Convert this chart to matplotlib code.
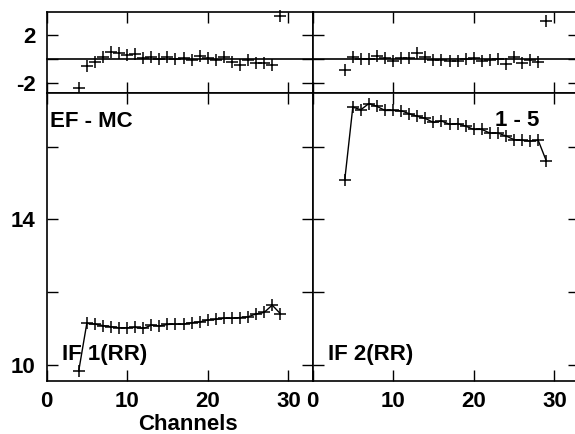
import matplotlib
matplotlib.use("Agg")
import matplotlib.pyplot as plt

plt.rcParams['font.family'] = ['Liberation Sans', 'DejaVu Sans']
plt.rcParams['font.weight'] = 'bold'

channels = list(range(4, 30))

# Residuals (top panels)
resid_if1 = [-2.41, -0.55, -0.22, 0.19, 0.60, 0.46, 0.33, 0.38, 0.05, 0.19, 0.00, 0.14, 0.00,
             0.05, -0.08, 0.25, 0.05, -0.08, 0.19, -0.22, -0.50, -0.08, -0.36, -0.36, -0.50, 3.56]
resid_if2 = [-0.90, 0.19, -0.03, -0.03, 0.27, 0.05, -0.14, 0.05, 0.05, 0.46, 0.14, -0.08, -0.08,
             -0.14, -0.14, -0.03, 0.05, -0.14, -0.08, -0.03, -0.41, 0.14, -0.36, -0.08, -0.22, 3.15]

# Data (bottom panels)
data_if1 = [9.85, 11.15, 11.13, 11.09, 11.06, 11.03, 11.03, 11.04, 11.01, 11.10, 11.08, 11.12, 11.13,
            11.13, 11.17, 11.19, 11.24, 11.26, 11.29, 11.29, 11.31, 11.33, 11.41, 11.45, 11.65, 11.42]
data_if2 = [15.08, 17.08, 17.01, 17.18, 17.10, 16.99, 16.99, 16.98, 16.90, 16.83, 16.77, 16.66, 16.70,
            16.61, 16.63, 16.56, 16.47, 16.47, 16.37, 16.37, 16.29, 16.19, 16.17, 16.15, 16.17, 15.61]

x_ticks = [0, 10, 20, 30]
top_yticks = [-2, 0, 2]
top_ylabels = ['-2', '', '2']
bot_yticks = [10, 12, 14, 16]
bot_ylabels = ['10', '', '14', '']

W, H = 575, 434
fig = plt.figure(figsize=(W / 100, H / 100), dpi=100)

def rect(x0, y0, x1, y1):
    return [x0 / W, 1 - y1 / H, (x1 - x0) / W, (y1 - y0) / H]

ax_tl = fig.add_axes(rect(46.5, 11.7, 312.5, 93.3))
ax_tr = fig.add_axes(rect(312.5, 11.7, 578.5, 93.3))
ax_bl = fig.add_axes(rect(46.5, 93.3, 312.5, 381))
ax_br = fig.add_axes(rect(312.5, 93.3, 578.5, 381))

FS = 16
for ax in (ax_tl, ax_tr, ax_bl, ax_br):
    ax.set_xlim(0, 33)
    ax.set_xticks(x_ticks)
    ax.tick_params(direction='in', length=8, width=1, top=True, right=True,
                   labelsize=FS, pad=8, colors='black')
    ax.tick_params(axis='x', pad=7)
    for s in ax.spines.values():
        s.set_linewidth(1.2)
        s.set_color('black')

for ax in (ax_tl, ax_tr):
    ax.set_ylim(-2.818, 3.887)
    ax.set_yticks(top_yticks)
    ax.axhline(0, color='black', lw=1.2)
    ax.tick_params(labelbottom=False)
ax_tl.set_yticklabels(top_ylabels)
ax_tr.set_yticklabels([])

for ax in (ax_bl, ax_br):
    ax.set_ylim(9.57, 17.46)
    ax.set_yticks(bot_yticks)
    ax.set_xticklabels([str(t) for t in x_ticks])
ax_bl.set_yticklabels(bot_ylabels)
ax_br.set_yticklabels([])

mk = dict(marker='+', markersize=9, markeredgewidth=1.1, color='black', linestyle='none')
ax_tl.plot(channels, resid_if1, **mk)
ax_tr.plot(channels, resid_if2, **mk)

ax_bl.plot(channels, data_if1, color='black', lw=1.0)
ax_bl.plot(channels, data_if1, **mk)
ax_br.plot(channels, data_if2, color='black', lw=1.0)
ax_br.plot(channels, data_if2, **mk)

for a in ax_tl.lines + ax_tr.lines:
    a.set_clip_on(False)

def ftext(x, y, s, **kw):
    fig.text(x / W, 1 - y / H, s, fontsize=FS, fontweight='bold', va='baseline', **kw)

ftext(50, 127, 'EF - MC', ha='left')
ftext(539, 126, '1 - 5', ha='right')
ftext(62, 360, 'IF 1(RR)', ha='left')
ftext(328, 360, 'IF 2(RR)', ha='left')
ftext(187.5, 429.5, 'Channels', ha='center')

fig.savefig('out.png', dpi=100)
